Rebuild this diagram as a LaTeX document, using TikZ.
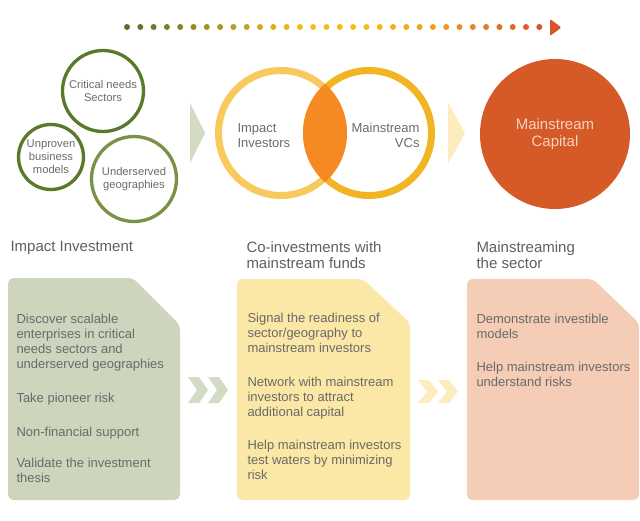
\documentclass[tikz,border=0pt]{standalone}
\usepackage{fontspec}
\setmainfont{Liberation Sans}

\definecolor{dotgreen}{RGB}{90,110,44}
\definecolor{dotyellow}{RGB}{246,188,28}
\definecolor{dotorange}{RGB}{242,150,40}
\definecolor{dotred}{RGB}{214,86,40}
\definecolor{ringdark}{RGB}{90,122,43}
\definecolor{ringlight}{RGB}{123,145,72}
\definecolor{sage}{RGB}{212,219,196}
\definecolor{boxgreen}{RGB}{205,214,189}
\definecolor{boxyellow}{RGB}{251,231,166}
\definecolor{boxpink}{RGB}{245,204,182}
\definecolor{paleyellow}{RGB}{253,236,190}
\definecolor{ringyellowA}{RGB}{248,201,92}
\definecolor{ringyellowB}{RGB}{241,181,35}
\definecolor{lensorange}{RGB}{245,138,35}
\definecolor{capred}{RGB}{214,90,39}
\definecolor{captext}{RGB}{247,210,192}
\definecolor{txtgrey}{RGB}{106,106,106}
\definecolor{headgrey}{RGB}{95,95,95}

\tikzset{every picture/.style={line width=0.75pt}}
\tikzset{
	ring/.style={draw, circle, line width=2.5pt, inner sep=0pt, align=center, text=txtgrey,
		font=\fontsize{8.4}{9.6}\selectfont},
	venn/.style={draw, circle, line width=5.25pt, inner sep=0pt, minimum size=93.75pt},
	venntext/.style={inner sep=0pt, text=txtgrey, font=\fontsize{9.75}{11.25}\selectfont},
	boxtext/.style={anchor=north west, inner sep=0pt, align=left, text=txtgrey,
		font=\fontsize{9.75}{11.25}\selectfont},
	heading/.style={anchor=north west, inner sep=0pt, align=left, text=headgrey,
		font=\fontsize{11.25}{11.8}\selectfont}
}

\begin{document}
\begin{tikzpicture}[x=0.75pt,y=0.75pt,yscale=-1,xscale=1]
	\useasboundingbox (0,0) rectangle (640,521);

	%Dotted arrow
	\foreach \i in {0,...,31}{
		\ifnum\i<14
			\pgfmathtruncatemacro\p{\i/13*100}
			\colorlet{dotc}{dotyellow!\p!dotgreen}
		\else\ifnum\i<19
			\colorlet{dotc}{dotyellow}
		\else\ifnum\i<25
			\pgfmathtruncatemacro\p{(\i-18)/6*100}
			\colorlet{dotc}{dotorange!\p!dotyellow}
		\else
			\pgfmathtruncatemacro\p{(\i-24)/7*100}
			\colorlet{dotc}{dotred!\p!dotorange}
		\fi\fi\fi
		\fill[dotc] (127+13.3*\i,27) circle (3);
	}
	\fill[dotred, rounded corners=1] (550,19) -- (561.5,27.5) -- (550,36) -- cycle;

	%Shape: Circle - impact investment
	\node[ring, draw=ringdark, minimum size=60.75pt] (crit) at (103,91) {Critical needs\\Sectors};
	\node[ring, draw=ringdark, minimum size=48.75pt] (unproven) at (51,157) {Unproven\\business\\models};
	\node[ring, draw=ringlight, minimum size=63.75pt] (under) at (134,179) {Underserved\\geographies};

	%Shape: Triangle
	\fill[sage] (190,103) -- (205,133) -- (190,163) -- cycle;

	%Shape: Circle - venn
	\node[venn, draw=ringyellowA] (impact) at (281,133) {};
	\node[venn, draw=ringyellowB] (mainvc) at (369,133) {};
	\begin{scope}
		\clip (impact.center) circle (66);
		\fill[lensorange] (mainvc.center) circle (66);
	\end{scope}
	% Text Node
	\node[venntext, anchor=north west, align=left] (impacttxt) at (237,123) {Impact\\Investors};
	% Text Node
	\node[venntext, anchor=north east, align=right] (mainvctxt) at (420,123) {Mainstream\\VCs};

	%Shape: Triangle
	\fill[paleyellow] (448,102) -- (465,133) -- (448,164) -- cycle;

	%Shape: Circle - mainstream capital
	\node[circle, fill=capred, minimum size=112.5pt, inner sep=0pt, align=center, text=captext,
		font=\fontsize{11.25}{12.5}\selectfont] (capital) at (555,134) {Mainstream\\Capital};

	% Text Node
	\node[heading] (head1) at (10,241) {Impact Investment};
	% Text Node
	\node[heading] (head2) at (246,241) {Co-investments with\\mainstream funds};
	% Text Node
	\node[heading] (head3) at (476,241) {Mainstreaming\\the sector};

	%Shape: Boxes with cut corner
	\fill[boxgreen, rounded corners=4] (8,278) -- (133,278) -- (180,325) -- (180,500) -- (8,500) -- cycle;
	\fill[boxyellow, rounded corners=4] (237,279) -- (363,279) -- (410,323) -- (410,500) -- (237,500) -- cycle;
	\fill[boxpink, rounded corners=4] (467,279) -- (593,279) -- (639,323) -- (639,500) -- (467,500) -- cycle;

	%Shape: Double chevrons
	\foreach \dx in {0,20}{
		\fill[sage] (188+\dx,377) -- (199+\dx,377) -- (208+\dx,390) -- (199+\dx,403) -- (188+\dx,403) -- (197+\dx,390) -- cycle;
		\fill[paleyellow] (418+\dx,380) -- (429+\dx,380) -- (438+\dx,391.5) -- (429+\dx,403) -- (418+\dx,403) -- (427+\dx,391.5) -- cycle;
	}

	% Text Node
	\node[boxtext] (g1) at (16,314) {Discover scalable\\enterprises in critical\\needs sectors and\\underserved geographies};
	\node[boxtext] (g2) at (16,393) {Take pioneer risk};
	\node[boxtext] (g3) at (16,427) {Non-financial support};
	\node[boxtext] (g4) at (16,458) {Validate the investment\\thesis};
	% Text Node
	\node[boxtext] (y1) at (247,313) {Signal the readiness of\\sector/geography to\\mainstream investors};
	\node[boxtext] (y2) at (247,377) {Network with mainstream\\investors to attract\\additional capital};
	\node[boxtext] (y3) at (247,440) {Help mainstream investors\\test waters by minimizing\\risk};
	% Text Node
	\node[boxtext] (p1) at (476,314) {Demonstrate investible\\models};
	\node[boxtext] (p2) at (476,362) {Help mainstream investors\\understand risks};

\end{tikzpicture}
\end{document}
